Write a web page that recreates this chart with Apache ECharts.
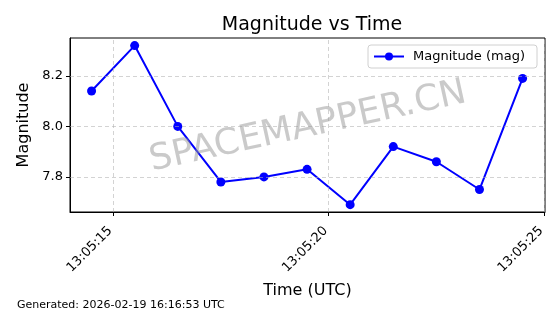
<!DOCTYPE html>
<html>
<head>
<meta charset="utf-8">
<script src="https://cdn.jsdelivr.net/npm/echarts@6/dist/echarts.min.js"></script>
<style>html,body{margin:0;padding:0;background:#fff}#c{width:560px;height:314px}</style>
</head>
<body>
<div id="c"></div>
<script>
// seconds after 13:05:00 UTC
const timeSeconds = [14.5, 15.5, 16.5, 17.5, 18.5, 19.5, 20.5, 21.5, 22.5, 23.5, 24.5];
const magnitudes = [8.14, 8.32, 8.00, 7.78, 7.80, 7.83, 7.69, 7.92, 7.86, 7.75, 8.19];
const xTickValues = [15, 20, 25];
const yTickValues = [7.8, 8.0, 8.2];
const seriesName = 'Magnitude (mag)';

const font = 'DejaVu Sans';
const pad = n => String(n).padStart(2, '0');
const fmtTime = v => '13:05:' + pad(Math.round(v));

const chart = echarts.init(document.getElementById('c'), null, {renderer: 'canvas'});
const gridLineStyle = {color: '#b0b0b0', type: [4, 3], width: 0.8, opacity: 0.7};
chart.setOption({
  animation: false,
  backgroundColor: '#fff',
  textStyle: {fontFamily: font},
  title: {
    text: 'Magnitude vs Time', left: 307, top: 11, textAlign: 'center',
    textStyle: {fontFamily: font, fontSize: 19, fontWeight: 'normal', color: '#000'}
  },
  legend: {
    data: [seriesName], left: 368, top: 45,
    itemWidth: 30, itemHeight: 10, itemGap: 9,
    padding: [5, 12, 5, 5],
    borderColor: '#d0d0d0', borderWidth: 1, borderRadius: 3,
    backgroundColor: 'rgba(255,255,255,0.8)',
    textStyle: {fontFamily: font, fontSize: 13, color: '#000', padding: [0, 0, 0, 4]}
  },
  grid: {left: 70, right: 15, top: 38, bottom: 102, show: true, borderColor: '#000', borderWidth: 1, containLabel: false},
  xAxis: {
    type: 'value', min: 14.0, max: 25.02,
    name: 'Time (UTC)', nameLocation: 'middle', nameGap: 71,
    nameTextStyle: {fontFamily: font, fontSize: 16, color: '#000'},
    axisLine: {show: true, lineStyle: {color: '#000'}},
    axisTick: {show: true, length: 4, customValues: xTickValues, lineStyle: {color: '#000'}},
    axisLabel: {customValues: xTickValues, formatter: fmtTime, rotate: 45, margin: 14,
      padding: [0, 4, 0, 0], fontFamily: font, fontSize: 13, color: '#000'},
    splitLine: {show: false}
  },
  yAxis: {
    type: 'value', min: 7.661, max: 8.35,
    name: 'Magnitude', nameLocation: 'middle', nameGap: 38, nameRotate: 90,
    nameTextStyle: {fontFamily: font, fontSize: 16, color: '#000'},
    axisLine: {show: true, lineStyle: {color: '#000'}},
    axisTick: {show: true, length: 4, customValues: yTickValues, lineStyle: {color: '#000'}},
    axisLabel: {customValues: yTickValues, formatter: v => v.toFixed(1), margin: 7,
      fontFamily: font, fontSize: 13, color: '#000'},
    splitLine: {show: false}
  },
  graphic: [
    {
      type: 'text', left: 17, top: 300, silent: true,
      style: {text: 'Generated: 2026-02-19 16:16:53 UTC', fontFamily: font, fontSize: 11, fill: '#000'}
    },
    {
      type: 'text', x: 308, y: 127, rotation: 12.3 * Math.PI / 180, silent: true, z: 100,
      style: {text: 'SPACEMAPPER.CN', fontFamily: font, fontSize: 36, fill: 'rgba(150,150,150,0.5)',
        align: 'center', verticalAlign: 'middle'}
    }
  ],
  series: [{
    name: seriesName, type: 'line',
    data: timeSeconds.map((t, i) => [t, magnitudes[i]]),
    symbol: 'circle', symbolSize: 9,
    lineStyle: {color: '#0000ff', width: 2},
    itemStyle: {color: '#0000ff'},
    markLine: {
      silent: true, symbol: ['none', 'none'], label: {show: false},
      lineStyle: gridLineStyle, animation: false,
      data: xTickValues.map(v => ({xAxis: v})).concat(yTickValues.map(v => ({yAxis: v})))
    }
  }]
});
</script>
</body>
</html>
